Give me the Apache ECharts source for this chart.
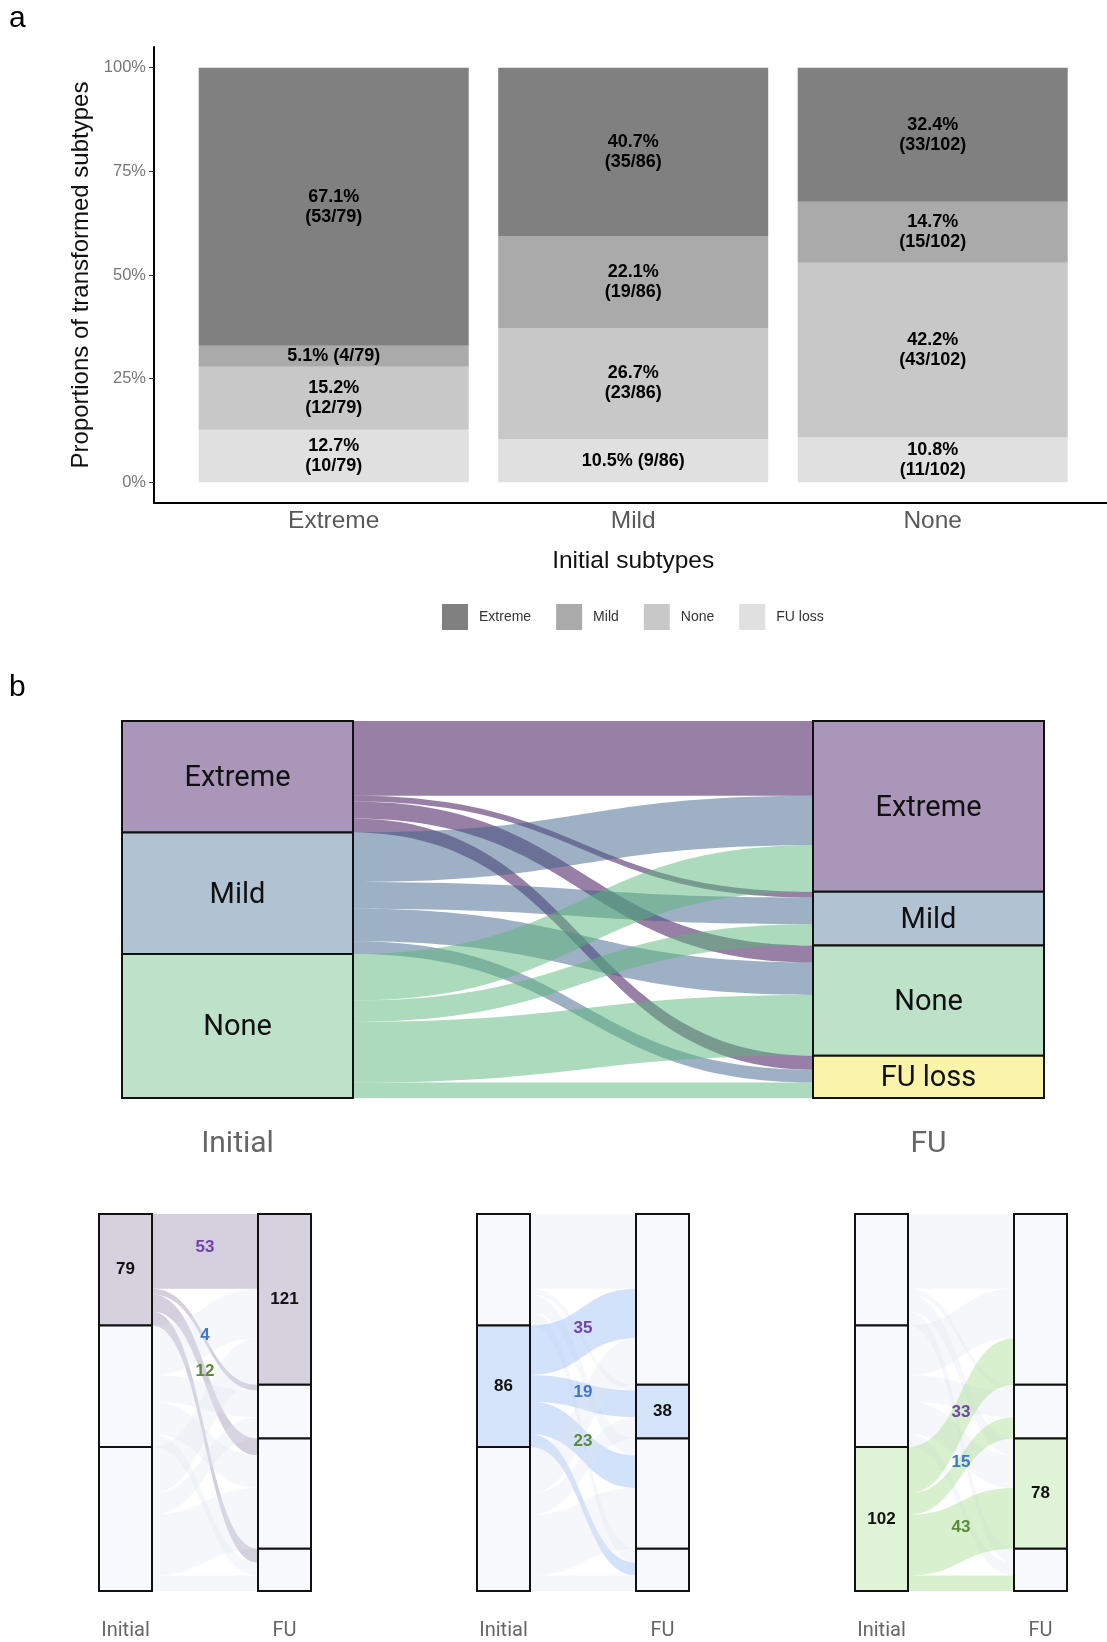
<!DOCTYPE html>
<html><head><meta charset="utf-8">
<script src="https://cdn.jsdelivr.net/npm/echarts@6/dist/echarts.min.js"></script>
<style>html,body{margin:0;padding:0;background:#fff}#c{width:1107px;height:1642px}</style>
</head><body><div id="c"></div>
<script>
// ---------------- data ----------------
const initialSubtypes = ['Extreme', 'Mild', 'None'];
const fuSubtypes = ['Extreme', 'Mild', 'None', 'FU loss'];
// number of patients of each initial subtype (Extreme, Mild, None) ending in each FU subtype
const toExtreme = [53, 35, 33];
const toMild = [4, 19, 15];
const toNone = [12, 23, 43];
const toFuLoss = [10, 9, 11];
const initialTotals = [79, 86, 102];
const yTickValues = [0, 0.25, 0.5, 0.75, 1];
const yTickLabels = ['0%', '25%', '50%', '75%', '100%'];
// bar labels written on one line: "initial|fu"
const oneLineLabels = ['Extreme|Mild', 'Mild|FU loss'];

// ---------------- styles ----------------
const flowsByFu = [toExtreme, toMild, toNone, toFuLoss];
const barColors = {'Extreme': '#808080', 'Mild': '#aaaaaa', 'None': '#c8c8c8', 'FU loss': '#e0e0e0'};
const nodeColors = ['#aa96b9', '#b1c3d3', '#bde2c9', '#faf4aa'];
const linkColors = ['rgba(49,0,75,0.5)', 'rgba(61,97,137,0.5)', 'rgba(87,181,121,0.5)'];
const smallNodeHi = ['#d5d1dd', '#d6e4fb', '#dff3d6'];
const smallLinkHi = ['rgba(170,160,185,0.5)', 'rgba(167,197,247,0.5)', 'rgba(179,225,159,0.5)'];
const smallNodeOff = '#f8f9fc';
const smallLinkOff = 'rgba(222,228,240,0.3)';
const edgeLabelColors = ['#7440ac', '#3f76cc', '#5a8a3a'];

const SANS = '"Liberation Sans", Arial, sans-serif';
const ROBO = 'Roboto, "Liberation Sans", sans-serif';

// layout
const plotA = {left: 154, top: 47, unit: 299.5, height: 456, expand: 0.6};
const big = {left: 122, top: 721, width: 922, height: 377, nodeWidth: 231};
const smallLefts = [99, 477, 855];
const small = {top: 1214, width: 212, height: 377, nodeWidth: 53};

// discrete axis with ggplot-like expansion: bars grid is narrower than the axis line grid
const axisWidth = plotA.unit * (initialSubtypes.length - 1 + 2 * plotA.expand);
const barGridLeft = plotA.left + plotA.expand * plotA.unit - plotA.unit / 2;
const barGridWidth = plotA.unit * initialSubtypes.length;

// ---------------- panel a ----------------
const stackOrder = ['FU loss', 'None', 'Mild', 'Extreme'];
const barSeries = stackOrder.map(fu => {
  const j = fuSubtypes.indexOf(fu);
  return {
    name: fu, type: 'bar', stack: 'all', barWidth: 270,
    xAxisIndex: 0, yAxisIndex: 0,
    itemStyle: {color: barColors[fu]},
    label: {
      show: true, position: 'inside', color: '#000', fontWeight: 'bold',
      fontSize: 18, lineHeight: 20, fontFamily: SANS,
      formatter: p => {
        const i = p.dataIndex;
        const n = flowsByFu[j][i], t = initialTotals[i];
        const pct = (n / t * 100).toFixed(1) + '%';
        const frac = '(' + n + '/' + t + ')';
        return oneLineLabels.includes(initialSubtypes[i] + '|' + fu) ? pct + ' ' + frac : pct + '\n' + frac;
      }
    },
    data: initialSubtypes.map((s, i) => flowsByFu[j][i] / initialTotals[i])
  };
});

// ---------------- panel b ----------------
function nodeList(styleFn) {
  const arr = [];
  initialSubtypes.forEach((s, i) => arr.push(Object.assign({name: 'Initial ' + s, display: s}, styleFn('i', i))));
  fuSubtypes.forEach((s, j) => arr.push(Object.assign({name: 'FU ' + s, display: s}, styleFn('f', j))));
  return arr;
}
function linkList(extraFn) {
  const arr = [];
  initialSubtypes.forEach((s, i) => {
    fuSubtypes.forEach((f, j) => {
      arr.push(Object.assign({source: 'Initial ' + s, target: 'FU ' + f, value: flowsByFu[j][i], ti: j, si: i}, extraFn(i, j)));
    });
  });
  return arr;
}

const bigSankey = {
  type: 'sankey', left: big.left, top: big.top, width: big.width, height: big.height,
  nodeWidth: big.nodeWidth, nodeGap: 0, layoutIterations: 0, draggable: false, silent: true,
  emphasis: {disabled: true},
  itemStyle: {borderColor: '#111', borderWidth: 2},
  lineStyle: {curveness: 0.5, opacity: 1},
  label: {show: true, position: 'inside', fontSize: 29, fontFamily: ROBO, color: '#111', offset: [0, 2], formatter: p => p.data.display},
  data: nodeList((c, k) => ({itemStyle: {color: nodeColors[k]}})),
  links: linkList((i, j) => ({lineStyle: {color: linkColors[i], opacity: 1}}))
};

const rich = {};
edgeLabelColors.forEach((c, k) => { rich['c' + k] = {color: c, fontWeight: 'bold', fontSize: 17, fontFamily: SANS}; });

function smallSankey(h) {
  return {
    type: 'sankey', left: smallLefts[h], top: small.top, width: small.width, height: small.height,
    nodeWidth: small.nodeWidth, nodeGap: 0, layoutIterations: 0, draggable: false, silent: true,
    emphasis: {disabled: true},
    itemStyle: {borderColor: '#111', borderWidth: 2},
    lineStyle: {curveness: 0.5, opacity: 1},
    label: {show: true, position: 'inside', fontSize: 17, fontWeight: 'bold', fontFamily: SANS, color: '#111', formatter: p => p.data.hi ? String(p.value) : ''},
    edgeLabel: {show: true, rich: rich, offset: [0, -4], formatter: p => (p.data.si === h && p.data.ti < 3) ? '{c' + p.data.ti + '|' + p.data.value + '}' : ''},
    data: nodeList((c, k) => ({hi: k === h, itemStyle: {color: k === h ? smallNodeHi[h] : smallNodeOff}})),
    links: linkList((i, j) => ({lineStyle: {color: i === h ? smallLinkHi[h] : smallLinkOff, opacity: 1}}))
  };
}

// panel letters and column titles (computed from the sankey layouts)
const graphics = [
  {type: 'text', left: 9, top: 4, style: {text: 'a', fontSize: 30, fontFamily: SANS, fill: '#000'}},
  {type: 'text', left: 9, top: 673, style: {text: 'b', fontSize: 30, fontFamily: SANS, fill: '#000'}}
];
function colTitle(x, y, txt, size) {
  graphics.push({type: 'text', x: x, y: y, style: {text: txt, fontSize: size, fontFamily: ROBO, fill: '#666', align: 'center', verticalAlign: 'middle'}});
}
colTitle(big.left + big.nodeWidth / 2, 1144, 'Initial', 30);
colTitle(big.left + big.width - big.nodeWidth / 2, 1144, 'FU', 30);
smallLefts.forEach(l => {
  colTitle(l + small.nodeWidth / 2, 1631, 'Initial', 20);
  colTitle(l + small.width - small.nodeWidth / 2, 1631, 'FU', 20);
});

const option = {
  animation: false,
  backgroundColor: '#fff',
  grid: [
    {left: barGridLeft, top: plotA.top, width: barGridWidth, height: plotA.height},
    {left: plotA.left, top: plotA.top, width: axisWidth, height: plotA.height}
  ],
  xAxis: [{
    type: 'category', data: initialSubtypes, gridIndex: 0, boundaryGap: true,
    axisLine: {show: false}, axisTick: {show: false}, splitLine: {show: false},
    axisLabel: {fontSize: 24.5, color: '#595959', fontFamily: SANS, margin: 6},
    name: 'Initial subtypes', nameLocation: 'middle', nameGap: 46,
    nameTextStyle: {fontSize: 24.5, color: '#111', fontFamily: SANS}
  }, {
    type: 'value', gridIndex: 1, min: 0, max: 1,
    axisLine: {show: true, onZero: false, lineStyle: {color: '#000', width: 2}},
    axisTick: {show: false}, axisLabel: {show: false}, splitLine: {show: false}
  }],
  yAxis: [{
    type: 'value', min: -0.05, max: 1.05, gridIndex: 0,
    axisLine: {show: false}, axisTick: {show: false}, axisLabel: {show: false}, splitLine: {show: false}
  }, {
    type: 'value', min: -0.05, max: 1.05, gridIndex: 1,
    axisLine: {show: true, onZero: false, lineStyle: {color: '#000', width: 2}},
    axisTick: {show: true, customValues: yTickValues, length: 5, lineStyle: {color: '#333'}},
    splitLine: {show: false},
    axisLabel: {customValues: yTickValues, formatter: v => yTickLabels[yTickValues.indexOf(Math.round(v * 100) / 100)], fontSize: 16.5, color: '#777', fontFamily: SANS, margin: 8},
    name: 'Proportions of transformed subtypes', nameLocation: 'middle', nameRotate: 90, nameGap: 54,
    nameTextStyle: {fontSize: 24, color: '#111', fontFamily: SANS}
  }],
  legend: {
    data: fuSubtypes, left: 437, top: 599, icon: 'rect', itemWidth: 26, itemHeight: 26, itemGap: 25,
    selectedMode: false,
    textStyle: {fontSize: 14, color: '#333', fontFamily: SANS, padding: [0, 0, 0, 6]}
  },
  graphic: graphics,
  series: barSeries.concat([bigSankey, smallSankey(0), smallSankey(1), smallSankey(2)])
};

const chart = echarts.init(document.getElementById('c'), null, {renderer: 'canvas'});
chart.setOption(option);
</script>
</body></html>
